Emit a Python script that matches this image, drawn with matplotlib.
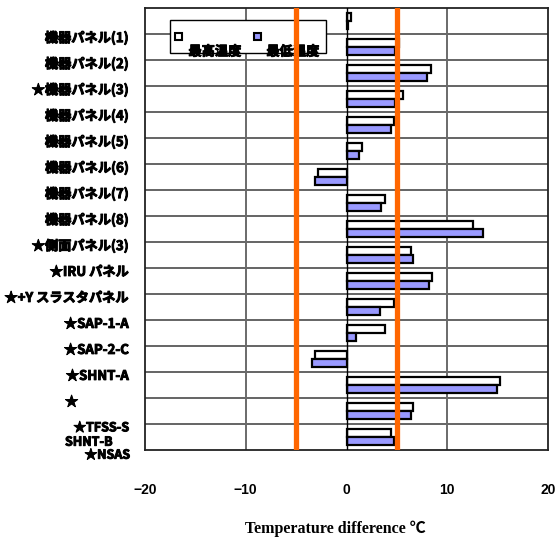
import matplotlib
matplotlib.use("Agg")
import matplotlib.pyplot as plt
from matplotlib.patches import Rectangle
import matplotlib.patheffects as pe
import numpy as np

# ---- data ----
labels = ["機器パネル(1)", "機器パネル(2)", "★機器パネル(3)", "機器パネル(4)",
          "機器パネル(5)", "機器パネル(6)", "機器パネル(7)", "機器パネル(8)",
          "★側面パネル(3)", "★IRU パネル", "★+Y スラスタパネル", "★SAP-1-A",
          "★SAP-2-C", "★SHNT-A", "★", "★TFSS-S"]
extra_labels = ["SHNT-B", "★NSAS"]
max_temp = [0.4, 5.2, 8.4, 5.6, 4.7, 1.5, -2.8, 3.8, 12.6, 6.4, 8.5, 4.7, 3.8, -3.1, 15.2, 6.6, 4.4]
min_temp = [0.1, 4.8, 8.0, 4.8, 4.4, 1.2, -3.1, 3.4, 13.5, 6.6, 8.2, 3.3, 0.9, -3.4, 14.9, 6.4, 4.7]
legend_names = ["最高温度", "最低温度"]
limit_lines = [-5, 5]
xticks = [-20, -10, 0, 10, 20]
xlabel = "Temperature difference ℃"

W, H = 555, 543
fig = plt.figure(figsize=(W / 100, H / 100), dpi=100)
L, R, T, B = 145, 548, 8, 450
ax = fig.add_axes([L / W, 1 - B / H, (R - L) / W, (B - T) / H])

n = len(max_temp)
y = np.arange(n)
bh = 0.3
off = 0.155
ax.barh(y - off, max_temp, height=bh, color="white", edgecolor="black", linewidth=1.6, zorder=3)
ax.barh(y + off, min_temp, height=bh, color="#9999FF", edgecolor="black", linewidth=1.6, zorder=3)

ax.set_xlim(-20, 20)
ax.set_ylim(n - 0.5, -0.5)

# grid
for k in range(n - 1):
    ax.axhline(k + 0.5, color="#4a4a4a", lw=1.2, zorder=1)
for xv in [-10, 10]:
    ax.axvline(xv, color="#6a6a6a", lw=1.4, zorder=1)
ax.axvline(0, color="black", lw=1.0, zorder=4)
for xv in limit_lines:
    ax.axvline(xv, color="#FF6600", lw=3.8, zorder=10)

for s in ax.spines.values():
    s.set_color("#222222")
    s.set_linewidth(1.3)

bold = [pe.withStroke(linewidth=0.7, foreground="black")]

ax.set_yticks([])
ax.set_xticks(xticks)
ax.set_xticklabels([("−" + str(abs(v))) if v < 0 else str(v) for v in xticks],
                   fontsize=10, fontweight="bold", family=["Liberation Sans", "DejaVu Sans"])
ax.tick_params(axis="x", length=0, pad=24)

# y labels
jp = ["Noto Sans CJK JP", "DejaVu Sans"]
def px2ax(px):
    return (px - L) / (R - L)
for k, lab in enumerate(labels):
    yy = k + 0.5 + 0.15
    fs = 9 if k == len(labels) - 1 else 9.5
    if lab == "★":
        ax.text(px2ax(65), yy, lab, transform=ax.get_yaxis_transform(), ha="left", va="center",
                fontsize=fs, fontweight="bold", family=jp, path_effects=bold)
    else:
        ax.text(px2ax(129), yy, lab, transform=ax.get_yaxis_transform(), ha="right", va="center",
                fontsize=fs, fontweight="bold", family=jp, path_effects=bold)
ax.text(px2ax(65), 16.2, extra_labels[0], transform=ax.get_yaxis_transform(), ha="left", va="center",
        fontsize=9, fontweight="bold", family=jp, path_effects=bold)
ax.text(px2ax(130), 16.7, extra_labels[1], transform=ax.get_yaxis_transform(), ha="right", va="center",
        fontsize=9, fontweight="bold", family=jp, clip_on=False, path_effects=bold)

# legend (manual, in figure pixels)
def fx(px):
    return px / W
def fy(py):
    return 1 - py / H
leg = Rectangle((fx(170), fy(53)), fx(326) - fx(170), fy(20) - fy(53), transform=fig.transFigure,
                facecolor="white", edgecolor="black", lw=1.0, zorder=8)
ax.add_artist(leg)
leg.set_clip_on(False)
for (mx, col, tx, name) in [(178, "white", 215, legend_names[0]), (257, "#9999FF", 293, legend_names[1])]:
    sq = Rectangle((fx(mx - 3.5), fy(39.5)), 7 / W, 7 / H, transform=fig.transFigure,
                   facecolor=col, edgecolor="black", lw=1.5, zorder=9)
    sq.set_clip_on(False)
    ax.add_artist(sq)
    ax.text(fx(tx), fy(51.5), name, transform=fig.transFigure, ha="center", va="center",
            fontsize=9.5, fontweight="bold", family=jp, zorder=9, path_effects=bold)

fig.text(fx(335), fy(529), xlabel, ha="center", va="center", fontsize=11.5, fontweight="bold",
         family=["Liberation Serif", "Noto Sans CJK JP", "DejaVu Sans"])

fig.savefig("out.png", dpi=100)
